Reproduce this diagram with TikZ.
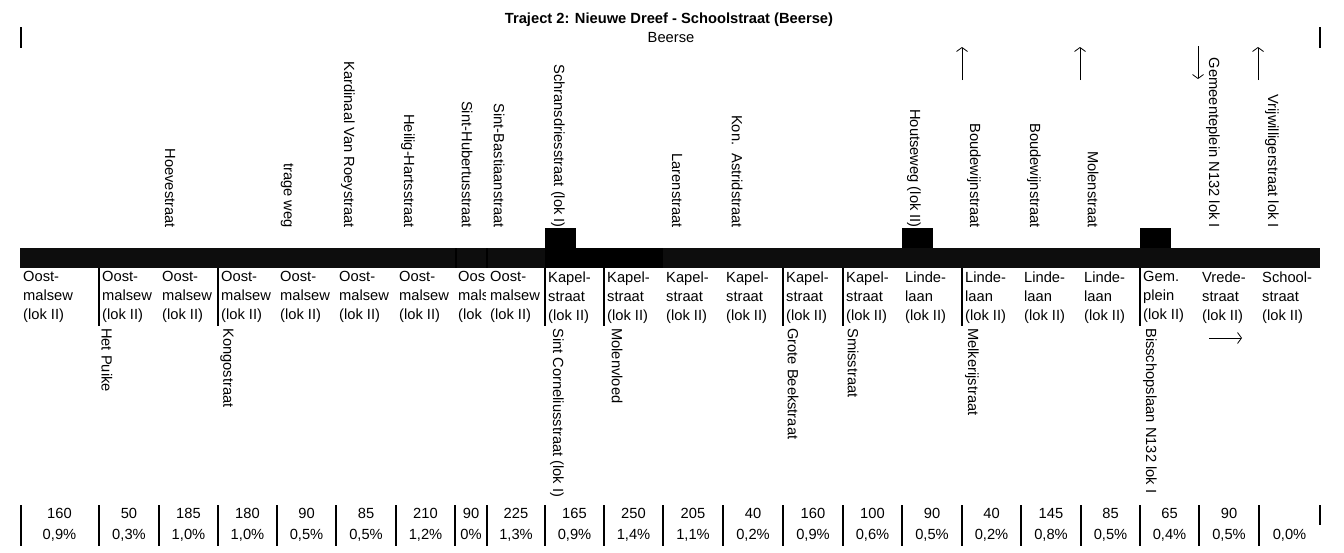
\documentclass[tikz,border=0pt]{standalone}
\usepackage{fontspec}
\setmainfont{Liberation Sans}
\usetikzlibrary{arrows.meta}
\begin{document}
\begin{tikzpicture}[x=1pt,y=-1pt,
  txt/.style={font=\fontsize{14.7}{19}\selectfont, inner sep=0pt},
  lbl/.style={txt, align=left, anchor=north west},
  vup/.style={txt, rotate=-90, anchor=east},
  vdown/.style={txt, rotate=-90, anchor=west},
  num/.style={txt, anchor=base},
  sep/.style={line width=2pt},
  arr/.style={line width=0.8pt, -{Straight Barb[length=4pt,width=11pt]}}]
\useasboundingbox (0,0) rectangle (1344,552);
% title
\node[txt, font=\bfseries\fontsize{14.7}{18}\selectfont] (title) at (669,20) {Traject 2: Nieuwe Dreef - Schoolstraat (Beerse)};
\node[txt] (sub) at (671,38) {Beerse};
\draw[sep] (21,27) -- (21,48);
\draw[sep] (1320,27) -- (1320,48);
% vertical labels above the bar
\foreach \x/\t [count=\i] in {170/Hoevestraat, 287/trage weg, 348/Kardinaal Van Roeystraat,
  408/Heilig-Hartsstraat, 467/Sint-Hubertusstraat, 499/Sint-Bastiaanstraat,
  558/Schransdriesstraat (lok I), 677/Larenstraat, 737/Kon.\ \ Astridstraat,
  914/Houtseweg (lok II), 974/Boudewijnstraat, 1034/Boudewijnstraat, 1093/Molenstraat,
  1213/Gemeenteplein N132 lok I, 1272/Vrijwilligerstraat lok I}
  \node[vup] (up\i) at (\x,228) {\t};
% bar
\fill[black!95] (20,248) rectangle (1320,268);
\fill[black] (545,248) rectangle (663,268);
\fill[black] (545,228) rectangle (576,248);
\fill[black] (902,228) rectangle (933,248);
\fill[black] (1140,228) rectangle (1171,248);
\draw[black, line width=1.5pt] (456,248) -- (456,268);
\draw[black, line width=2pt] (487,248) -- (487,268);
% arrows
\coordinate (a1s) at (962,80);  \coordinate (a1e) at (962,47);
\coordinate (a2s) at (1080,80); \coordinate (a2e) at (1080,47);
\coordinate (a3s) at (1198,46); \coordinate (a3e) at (1198,79);
\coordinate (a4s) at (1258,80); \coordinate (a4e) at (1258,47);
\coordinate (a5s) at (1209,338); \coordinate (a5e) at (1242,338);
\foreach \k in {1,...,5} \draw[arr] (a\k s) -- (a\k e);
% separators under the bar
\foreach \x in {99,218,545,604,783,843,962,1140}
  \draw[sep] (\x,268) -- (\x,326);
% vertical labels below the bar
\foreach \x/\t [count=\i] in {107/Het Puike, 227/Kongostraat, 557/Sint Corneliusstraat (lok I),
  617/Molenvloed, 793/Grote Beekstraat, 853/Smisstraat, 972/Melkerijstraat,
  1150/Bisschopslaan N132 lok I}
  \node[vdown] (dn\i) at (\x,328) {\t};
% cells
\foreach \l/\r/\a/\b/\c/\n/\p [count=\i] in {
  20/99/Oost-/malsew/(lok II)/160/{0,9\%},
  99/159/Oost-/malsew/(lok II)/50/{0,3\%},
  159/218/Oost-/malsew/(lok II)/185/{1,0\%},
  218/277/Oost-/malsew/(lok II)/180/{1,0\%},
  277/336/Oost-/malsew/(lok II)/90/{0,5\%},
  336/396/Oost-/malsew/(lok II)/85/{0,5\%},
  396/455/Oost-/malsew/(lok II)/210/{1,2\%},
  455/487/Oos/mals/(lok/90/{0\%},
  487/545/Oost-/malsew/(lok II)/225/{1,3\%},
  545/604/Kapel-/straat/(lok II)/165/{0,9\%},
  604/663/Kapel-/straat/(lok II)/250/{1,4\%},
  663/723/Kapel-/straat/(lok II)/205/{1,1\%},
  723/783/Kapel-/straat/(lok II)/40/{0,2\%},
  783/843/Kapel-/straat/(lok II)/160/{0,9\%},
  843/902/Kapel-/straat/(lok II)/100/{0,6\%},
  902/962/Linde-/laan/(lok II)/90/{0,5\%},
  962/1021/Linde-/laan/(lok II)/40/{0,2\%},
  1021/1081/Linde-/laan/(lok II)/145/{0,8\%},
  1081/1140/Linde-/laan/(lok II)/85/{0,5\%},
  1140/1199/Gem./plein/(lok II)/65/{0,4\%},
  1199/1259/Vrede-/straat/(lok II)/90/{0,5\%},
  1259/1320/School-/straat/(lok II)/{}/{0,0\%}}
{
  \begin{scope}
    \clip (\l,268) rectangle (\r-1.5,330);
    \node[lbl] (cell\i) at (\l+3,271.5) {\a\\\b\\\c};
  \end{scope}
  \node[num] (len\i) at ({(\l+\r)/2},518) {\n};
  \node[num] (pct\i) at ({(\l+\r)/2},539) {\p};
}
% bottom separators
\foreach \x in {21,99,159,218,277,336,396,455,487,545,604,663,723,783,843,902,962,1021,1081,1140,1199,1259}
  \draw[sep] (\x,505) -- (\x,546);
\draw[sep] (1320,505) -- (1320,525);
\end{tikzpicture}
\end{document}
